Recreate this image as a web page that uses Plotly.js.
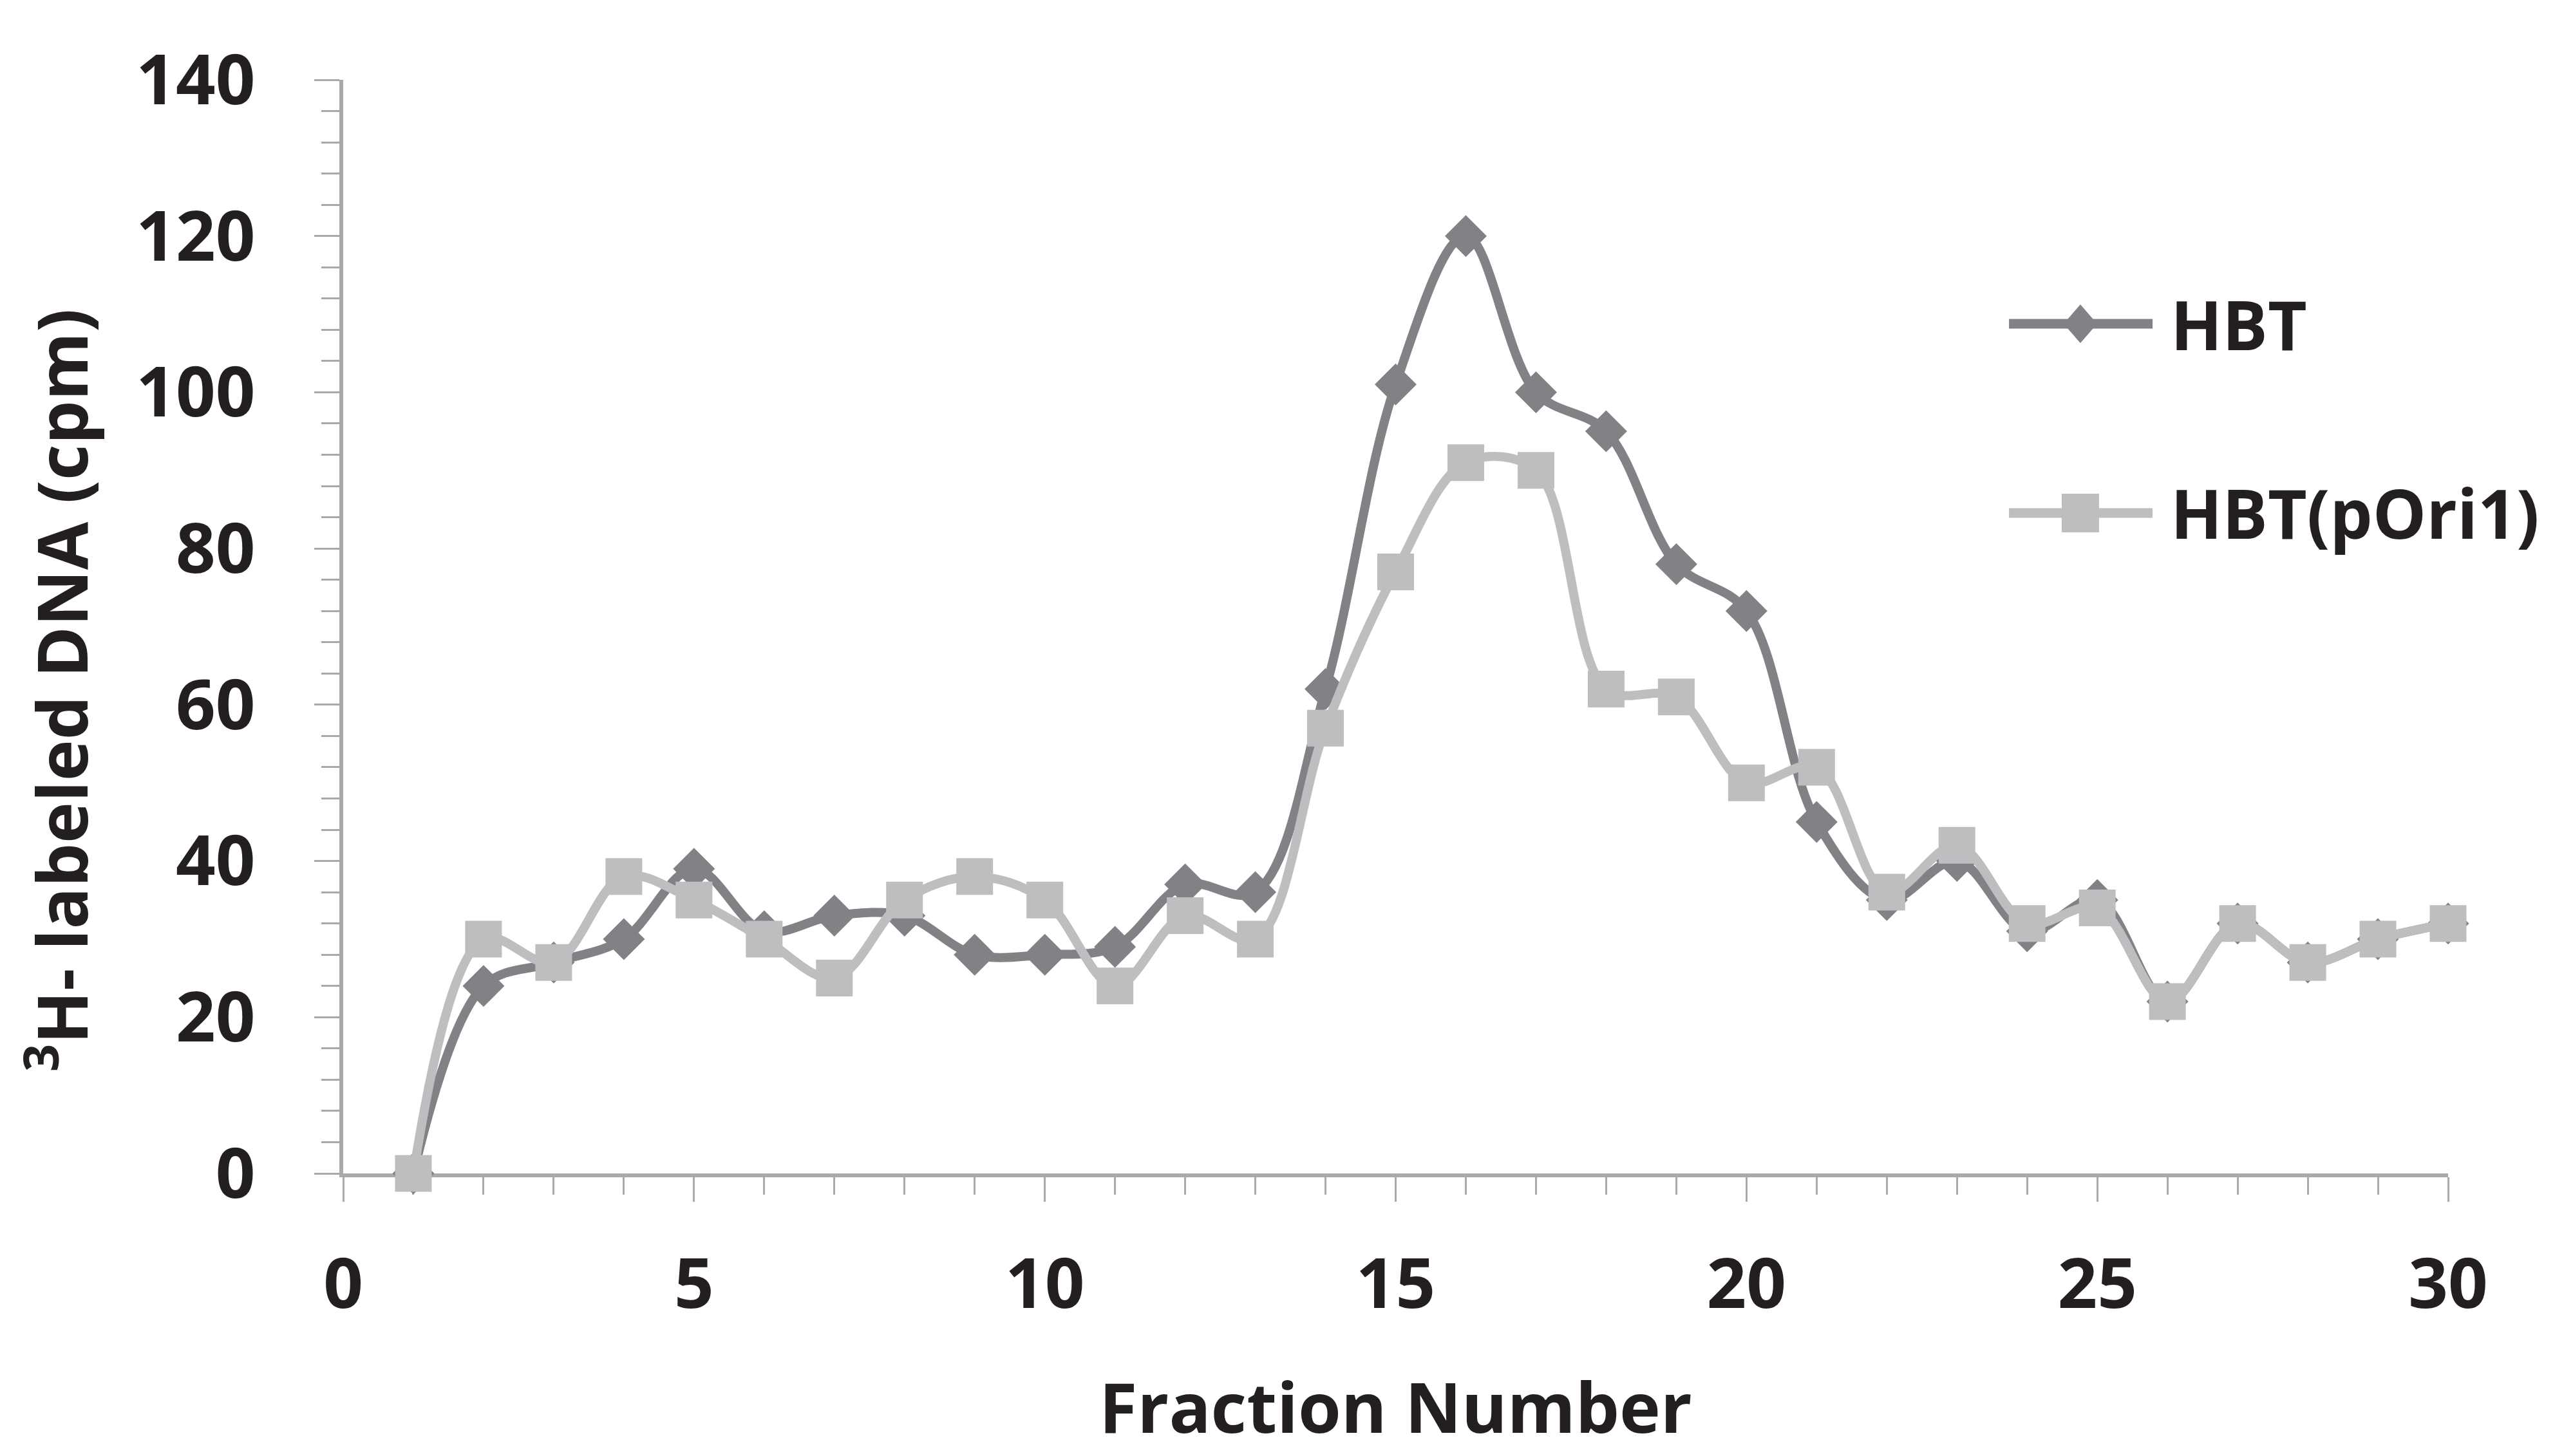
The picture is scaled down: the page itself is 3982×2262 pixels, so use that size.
<!DOCTYPE html>
<html>
<head>
<meta charset="utf-8">
<script src="https://cdn.plot.ly/plotly-3.0.1.min.js"></script>
<style>
html,body{margin:0;padding:0;background:#fff;}
#chart{width:3982px;height:2262px;}
</style>
</head>
<body>
<div id="chart"></div>
<script>
var fractions = [1,2,3,4,5,6,7,8,9,10,11,12,13,14,15,16,17,18,19,20,21,22,23,24,25,26,27,28,29,30];
var hbt = [0,24,27,30,39,31,33,33,28,28,29,37,36,62,101,120,100,95,78,72,45,35,40,31,35,22,32,27,30,32];
var hbtPOri1 = [0,30,27,38,35,30,25,35,38,35,24,33,30,57,77,91,90,62,61,50,52,36,42,32,34,22,32,27,30,32];
var seriesNames = ["HBT", "HBT(pOri1)"];
var xTitle = "Fraction Number";
var yTitle = "<sup>3</sup>H- labeled DNA (cpm)";

var darkGray = "#808285";
var lightGray = "#bcbec0";
var axisGray = "#a7a9ac";
var textColor = "#231f20";
var fontFam = "'Open Sans', 'Noto Sans', sans-serif";

var traces = [
  {
    x: fractions, y: hbt, name: seriesNames[0], type: "scatter", mode: "lines+markers",
    line: {color: darkGray, width: 14, shape: "spline", smoothing: 1},
    marker: {symbol: "diamond", size: 50, color: darkGray},
    cliponaxis: false, showlegend: false
  },
  {
    x: fractions, y: hbtPOri1, name: seriesNames[1], type: "scatter", mode: "lines+markers",
    line: {color: lightGray, width: 14, shape: "spline", smoothing: 1},
    marker: {symbol: "square", size: 57, color: lightGray},
    cliponaxis: false, showlegend: false
  }
];

var legX0 = 0.7914, legX1 = 0.8596, legXc = 0.8253, legTx = 0.8675;
var legY = [0.7769, 0.6039];

var layout = {
  width: 3982, height: 2262,
  margin: {l: 533, r: 180, t: 124, b: 439},
  paper_bgcolor: "#ffffff", plot_bgcolor: "#ffffff",
  font: {family: fontFam, color: textColor},
  showlegend: false,
  xaxis: {
    range: [0, 30], tick0: 0, dtick: 5,
    showgrid: false, zeroline: false,
    showline: true, linecolor: axisGray, linewidth: 6,
    ticks: "outside", ticklen: 38, tickwidth: 3, tickcolor: axisGray,
    minor: {dtick: 1, ticks: "outside", ticklen: 27, tickwidth: 3, tickcolor: axisGray, showgrid: false},
    tickfont: {family: fontFam, size: 108, color: textColor, weight: "bold"},
    ticklabelstandoff: 35,
    layer: "below traces",
    title: {text: xTitle, font: {family: fontFam, size: 108, color: textColor, weight: "bold"}, standoff: 90}
  },
  yaxis: {
    range: [0, 140], tick0: 0, dtick: 20,
    showgrid: false, zeroline: false,
    showline: true, linecolor: axisGray, linewidth: 6,
    ticks: "outside", ticklen: 39, tickwidth: 3, tickcolor: axisGray,
    minor: {dtick: 4, ticks: "outside", ticklen: 28, tickwidth: 3, tickcolor: axisGray, showgrid: false},
    tickfont: {family: fontFam, size: 108, color: textColor, weight: "bold"},
    ticklabelstandoff: 70,
    layer: "below traces"
  },
  shapes: [
    {type: "line", xref: "paper", yref: "paper", x0: legX0, x1: legX1, y0: legY[0], y1: legY[0], line: {color: darkGray, width: 15}},
    {type: "path", xref: "paper", yref: "paper", xsizemode: "pixel", ysizemode: "pixel", xanchor: legXc, yanchor: legY[0],
     path: "M0,30 L26,0 L0,-30 L-26,0 Z", fillcolor: darkGray, line: {width: 0}},
    {type: "line", xref: "paper", yref: "paper", x0: legX0, x1: legX1, y0: legY[1], y1: legY[1], line: {color: lightGray, width: 15}},
    {type: "rect", xref: "paper", yref: "paper", xsizemode: "pixel", ysizemode: "pixel", xanchor: legXc, yanchor: legY[1],
     x0: -29, x1: 29, y0: -30, y1: 30, fillcolor: lightGray, line: {width: 0}}
  ],
  annotations: [
    {xref: "paper", yref: "paper", x: -0.1358, y: 0.442, xanchor: "center", yanchor: "middle", textangle: -90, showarrow: false,
     text: yTitle, font: {family: fontFam, size: 108, color: textColor, weight: "bold"}},
    {xref: "paper", yref: "paper", x: legTx, y: legY[0], xanchor: "left", yanchor: "middle", showarrow: false,
     text: seriesNames[0], font: {family: fontFam, size: 105, color: textColor, weight: "bold"}},
    {xref: "paper", yref: "paper", x: legTx, y: legY[1], xanchor: "left", yanchor: "middle", showarrow: false,
     text: seriesNames[1], font: {family: fontFam, size: 105, color: textColor, weight: "bold"}}
  ]
};

Plotly.newPlot("chart", traces, layout, {staticPlot: true, displayModeBar: false});
</script>
</body>
</html>
